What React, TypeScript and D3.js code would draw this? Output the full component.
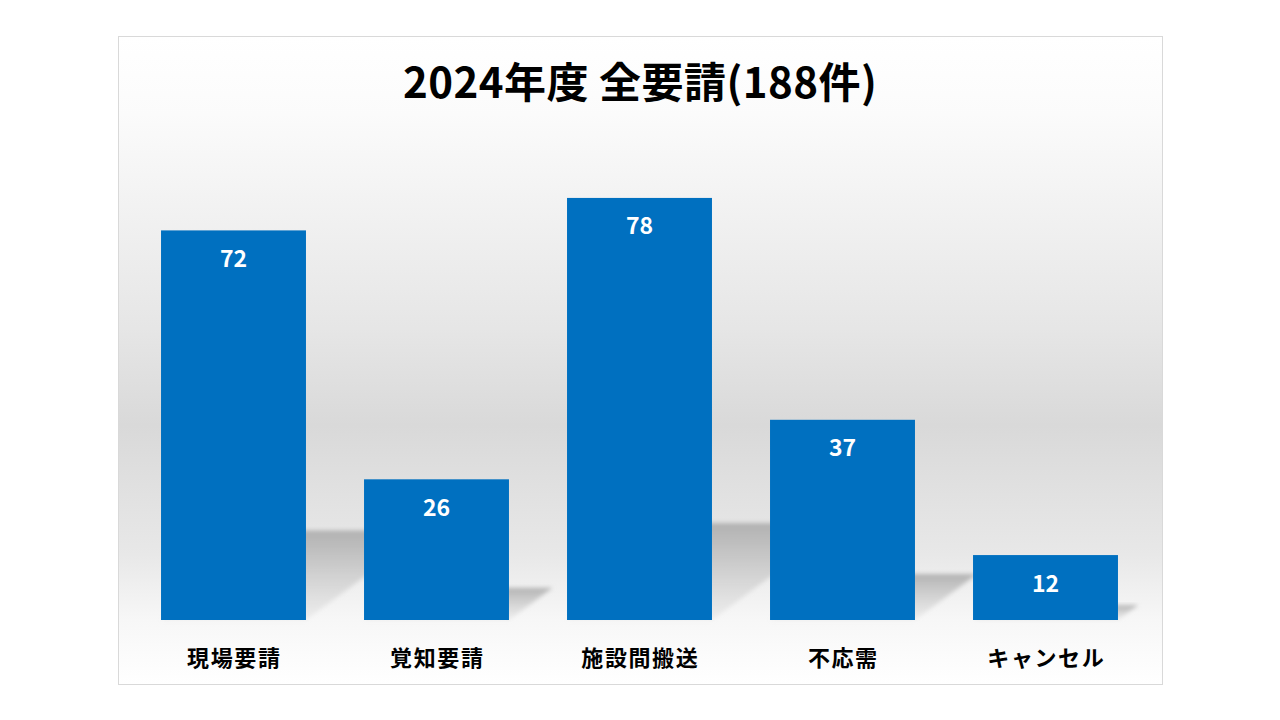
import React from "react";
import * as d3 from "d3";

const categories = ["現場要請", "覚知要請", "施設間搬送", "不応需", "キャンセル"];
const values = [72, 26, 78, 37, 12];
const titleText = "2024年度 全要請(188件)";
const yMax = 90;

export default function App() {
  const W = 1280, H = 720;
  const frame = { x: 118.5, y: 36.5, w: 1044, h: 648 };
  const plot = { left: 132, right: 1147, top: 133, bottom: 620 };
  const x = d3.scaleBand<string>().domain(categories).range([plot.left, plot.right]).paddingInner(0.286).paddingOuter(0.143);
  const y = d3.scaleLinear().domain([0, yMax]).range([plot.bottom, plot.top]);
  const font = "'Noto Sans CJK JP', 'Noto Sans', sans-serif";
  const k = 1.35;
  const ls = 1.6;
  return (
    <svg width={W} height={H} style={{ position: "absolute", left: 0, top: 0 }}>
      <defs>
        <linearGradient id="bg" x1="0" y1="0" x2="0" y2="1">
          <stop offset="0" stopColor="#ffffff" />
          <stop offset="0.12" stopColor="#fbfbfb" />
          <stop offset="0.45" stopColor="#e6e6e6" />
          <stop offset="0.6" stopColor="#d9d9d9" />
          <stop offset="0.8" stopColor="#e8e8e8" />
          <stop offset="0.9" stopColor="#f7f7f7" />
          <stop offset="1" stopColor="#ffffff" />
        </linearGradient>
        <linearGradient id="sh" x1="0" y1="0" x2="0" y2="1">
          <stop offset="0" stopColor="#a8a8a8" stopOpacity="0.85" />
          <stop offset="1" stopColor="#c8c8c8" stopOpacity="0.2" />
        </linearGradient>
        <filter id="blur" x="-20%" y="-20%" width="140%" height="140%">
          <feGaussianBlur stdDeviation="2" />
        </filter>
      </defs>
      <rect x={0} y={0} width={W} height={H} fill="#ffffff" />
      <rect x={frame.x} y={frame.y} width={frame.w} height={frame.h} fill="url(#bg)" stroke="#d9d9d9" strokeWidth={1} />
      <text x={640} y={98} textAnchor="middle" fontFamily={font} fontWeight={700} fontSize={42} fill="#000" textLength={474} lengthAdjust="spacing">{titleText}</text>
      <g>
        {categories.map((c, i) => {
          const x0 = x(c)!;
          const x1 = x0 + x.bandwidth();
          const base = y(0);
          const sh = (base - y(values[i])) * 0.23;
          const dx = sh * k;
          const pts = [[x0, base], [x1, base], [x1 + dx, base - sh], [x0 + dx, base - sh]];
          return (
            <polygon key={c} points={pts.map(p => p.join(",")).join(" ")} fill="url(#sh)" filter="url(#blur)" />
          );
        })}
      </g>
      <g>
        {categories.map((c, i) => (
          <rect key={c} x={x(c)} y={y(values[i])} width={x.bandwidth()} height={y(0) - y(values[i])} fill="#0070C0" />
        ))}
      </g>
      <g>
        {categories.map((c, i) => (
          <text key={c} x={x(c)! + x.bandwidth() / 2} y={y(values[i]) + 36.5} textAnchor="middle" fontFamily={font} fontWeight={700} fontSize={23} fill="#ffffff">{values[i]}</text>
        ))}
      </g>
      <g>
        {categories.map((c) => (
          <text key={c} x={x(c)! + x.bandwidth() / 2 + ls / 2} y={666} textAnchor="middle" fontFamily={font} fontWeight={700} fontSize={22} letterSpacing={ls} fill="#000">{c}</text>
        ))}
      </g>
    </svg>
  );
}
